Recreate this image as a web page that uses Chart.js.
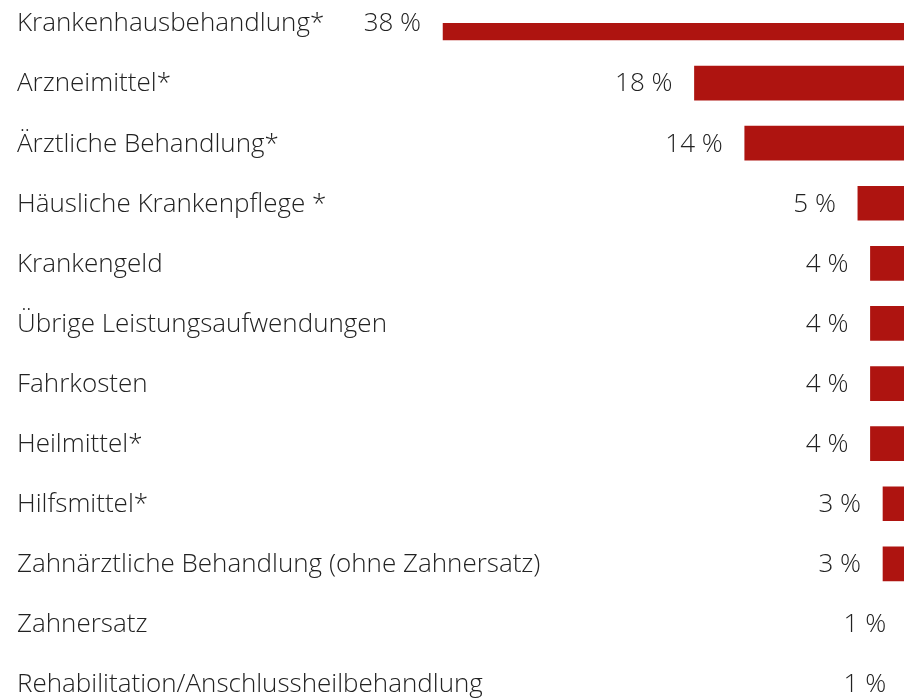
<!DOCTYPE html>
<html>
<head>
<meta charset="utf-8">
<script src="https://cdn.jsdelivr.net/npm/chart.js@4"></script>
<style>
html,body{margin:0;padding:0;background:#fff;}
#wrap{position:relative;width:904px;height:699px;}
</style>
</head>
<body>
<div id="wrap"><canvas id="c"></canvas></div>
<script>
const categories = [
  "Krankenhausbehandlung*",
  "Arzneimittel*",
  "Ärztliche Behandlung*",
  "Häusliche Krankenpflege *",
  "Krankengeld",
  "Übrige Leistungsaufwendungen",
  "Fahrkosten",
  "Heilmittel*",
  "Hilfsmittel*",
  "Zahnärztliche Behandlung (ohne Zahnersatz)",
  "Zahnersatz",
  "Rehabilitation/Anschlussheilbehandlung"
];
const shares = [38, 18, 14, 5, 4, 4, 4, 4, 3, 3, 1, 1];
const valueLabels = ["38 %", "18 %", "14 %", "5 %", "4 %", "4 %", "4 %", "4 %", "3 %", "3 %", "1 %", "1 %"];

const FONT = "'Open Sans', 'Noto Sans', sans-serif";
const TEXT = "#222222";
const FSIZE = 26;
const FWEIGHT = 300;

const labelPlugin = {
  id: 'labels',
  afterDatasetsDraw(chart) {
    const ctx = chart.ctx;
    const meta = chart.getDatasetMeta(0);
    const yScale = chart.scales.y;
    ctx.save();
    ctx.font = FWEIGHT + " " + FSIZE + "px " + FONT;
    ctx.fillStyle = TEXT;
    ctx.textBaseline = 'middle';
    // category labels, positioned by the category scale
    ctx.textAlign = 'left';
    categories.forEach((c, i) => {
      ctx.fillText(c, 17, yScale.getPixelForValue(i) + 1);
    });
    // value labels, right-aligned before each bar end
    ctx.textAlign = 'right';
    meta.data.forEach((bar, i) => {
      ctx.fillText(valueLabels[i], bar.x - 22, bar.y + 1);
    });
    ctx.restore();
  }
};

new Chart(document.getElementById('c'), {
  type: 'bar',
  data: {
    labels: categories,
    datasets: [{
      data: shares,
      backgroundColor: '#ae1410',
      borderWidth: 0,
      barThickness: 34
    }]
  },
  options: {
    indexAxis: 'y',
    responsive: true,
    maintainAspectRatio: false,
    animation: false,
    devicePixelRatio: 1,
    layout: { padding: { top: 23, bottom: 15, left: 0, right: 0 } },
    plugins: { legend: { display: false }, tooltip: { enabled: false } },
    scales: {
      x: {
        type: 'linear',
        reverse: true,
        min: 1.33,
        max: 73.25,
        display: false
      },
      y: {
        type: 'category',
        offset: false,
        display: false
      }
    }
  },
  plugins: [labelPlugin]
});
</script>
</body>
</html>
